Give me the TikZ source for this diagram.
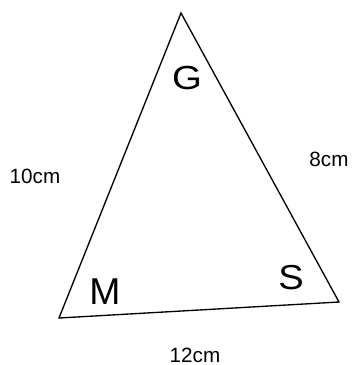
\documentclass[tikz,border=0pt]{standalone}
\usepackage{fontspec}
\setmainfont{Liberation Sans}
\begin{document}
\begin{tikzpicture}[x=0.75pt,y=-0.75pt,
  edge/.style={draw=black,line width=1.0pt,line join=miter},
  vlabel/.style={inner sep=0pt,anchor=center,text=black},
  slabel/.style={inner sep=0pt,anchor=center,text=black,font=\fontsize{15.5pt}{16pt}\selectfont}]
\useasboundingbox (0,0) rectangle (351,365);
\coordinate (T) at (181,13);
\coordinate (L) at (59,318);
\coordinate (R) at (339,302);
\draw[edge] (T) -- (L) -- (R) -- cycle;
\node[vlabel,font=\fontsize{25pt}{26pt}\selectfont,xscale=1.15] (G) at (187,78) {G};
\node[vlabel,font=\fontsize{28pt}{29pt}\selectfont] (M) at (105,292) {M};
\node[vlabel,font=\fontsize{26pt}{27pt}\selectfont,xscale=1.1] (S) at (291,278) {S};
\node[slabel] (a) at (35,176) {10cm};
\node[slabel] (b) at (329,159) {8cm};
\node[slabel] (c) at (195,355) {12cm};
\end{tikzpicture}
\end{document}
